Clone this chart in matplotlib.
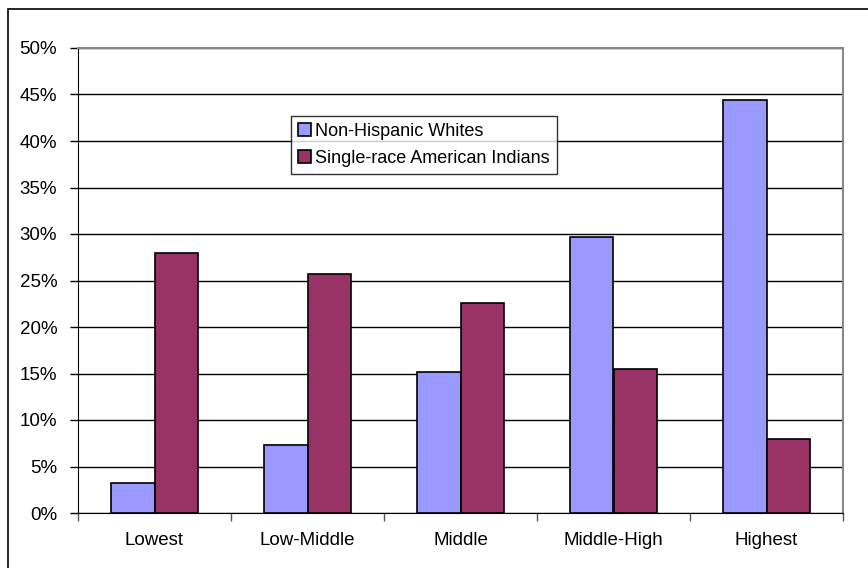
import numpy as np
import matplotlib
matplotlib.use('Agg')
import matplotlib.pyplot as plt
from matplotlib.patches import Rectangle
from matplotlib.ticker import FuncFormatter, MultipleLocator

categories = ['Lowest', 'Low-Middle', 'Middle', 'Middle-High', 'Highest']
whites = [3.2, 7.3, 15.2, 29.7, 44.4]
indians = [28.0, 25.7, 22.6, 15.5, 8.0]
series_names = ['Non-Hispanic Whites', 'Single-race American Indians']

plt.rcParams['font.family'] = ['Liberation Sans', 'DejaVu Sans']
fs = 13.5

fig = plt.figure(figsize=(8.68, 5.68), dpi=100)
ax = fig.add_axes([78/868, 55/568, 765/868, 465/568])

# outer frame of the chart (cropped on right and bottom)
fig.patches.append(Rectangle((8/868, -0.1), 2.0, (568-9)/568 + 0.1,
                             transform=fig.transFigure, fill=False,
                             edgecolor='black', linewidth=1.2, zorder=0))

x = np.arange(len(categories))
w = 0.287
ax.bar(x - w/2, whites, w, color='#9999FF', edgecolor='black', linewidth=1.2,
       label=series_names[0], zorder=3)
ax.bar(x + w/2, indians, w, color='#993366', edgecolor='black', linewidth=1.2,
       label=series_names[1], zorder=3)

ax.set_xlim(-0.5, len(categories) - 0.5)
ax.set_ylim(0, 50)
ax.yaxis.set_major_locator(MultipleLocator(5))
ax.yaxis.set_major_formatter(FuncFormatter(lambda v, p: '%d%%' % v))
ax.grid(axis='y', color='black', linewidth=1.0, zorder=0)

ax.set_xticks(x)
ax.set_xticklabels(categories, fontsize=fs)
ax.set_xticks(np.arange(len(categories) + 1) - 0.5, minor=True)
ax.tick_params(axis='x', which='major', length=0, pad=14)
ax.tick_params(axis='x', which='minor', length=6, width=1, color='#555555')
ax.tick_params(axis='y', labelsize=fs, length=6, width=1, color='black', pad=9)

for s in ['top', 'right']:
    ax.spines[s].set_color('#888888')
    ax.spines[s].set_linewidth(1.5)
ax.spines['left'].set_color('black')
ax.spines['bottom'].set_color('black')

leg = ax.legend(loc='upper left', bbox_to_anchor=(0.278, 0.854), fontsize=13,
                frameon=True, fancybox=False, edgecolor='black',
                handlelength=0.7, handleheight=0.7, handletextpad=0.25,
                borderpad=0.4, labelspacing=0.55, borderaxespad=0)
leg.get_frame().set_linewidth(1.0)

fig.savefig('out.png', dpi=100)
